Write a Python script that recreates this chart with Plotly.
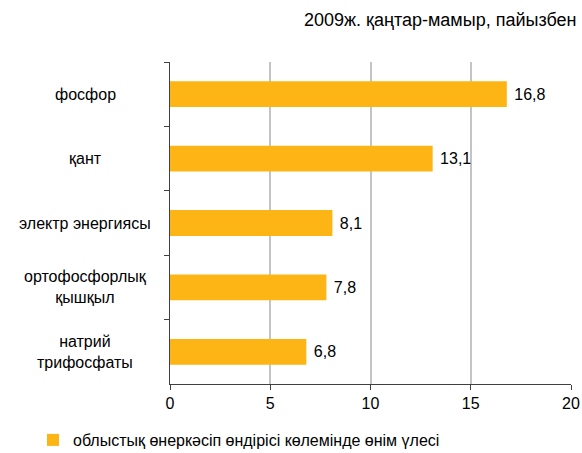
import plotly.graph_objects as go

categories = ["фосфор", "қант", "электр энергиясы", "ортофосфорлық<br>қышқыл", "натрий<br>трифосфаты"]
values = [16.8, 13.1, 8.1, 7.8, 6.8]
series_name = "облыстық өнеркәсіп өндірісі көлемінде өнім үлесі"
title_text = "2009ж. қаңтар-мамыр, пайызбен"
x_ticks = [0, 5, 10, 15, 20]

FONT = "Liberation Sans, Arial, sans-serif"
BAR = "#FDB515"
L, R, T, B = 170, 11, 62, 69
PW, PH = 582 - L - R, 453 - T - B

fig = go.Figure()
fig.add_trace(go.Bar(
    y=categories, x=values, orientation="h",
    marker=dict(color=BAR, line=dict(width=0)),
    name=series_name,
    text=values, texttemplate=" %{x:.1f}", textposition="outside",
    textfont=dict(family=FONT, size=16, color="#000000"),
    cliponaxis=False, showlegend=True,
))

for c in categories:
    fig.add_annotation(
        x=(85 - L) / PW, xref="paper", y=c, yref="y",
        text=c, showarrow=False, xanchor="center", yanchor="middle",
        align="center", font=dict(family=FONT, size=16, color="#000000"),
    )

fig.add_annotation(
    x=(579 - L) / PW, xref="paper", y=(453 - B - 20) / PH, yref="paper",
    text=title_text, showarrow=False, xanchor="right", yanchor="middle",
    font=dict(family=FONT, size=18, color="#000000"),
)

fig.update_layout(
    width=582, height=453,
    margin=dict(l=L, r=R, t=T, b=B, autoexpand=False),
    paper_bgcolor="white", plot_bgcolor="white",
    separators=", ",
    bargap=0.6,
    font=dict(family=FONT, size=16, color="#000000"),
    legend=dict(
        orientation="h", x=(33 - L) / PW, y=(453 - B - 440) / PH,
        xanchor="left", yanchor="middle",
        font=dict(family=FONT, size=16, color="#000000"),
        itemwidth=30,
    ),
    xaxis=dict(
        range=[0, 20], tickvals=x_ticks, ticktext=[str(t) for t in x_ticks],
        showgrid=True, gridcolor="#C4C4C8", gridwidth=2,
        showline=True, linecolor="#404040", linewidth=1,
        ticks="outside", ticklen=5, tickcolor="#404040",
        zeroline=False, automargin=False,
        tickfont=dict(family=FONT, size=16, color="#000000"),
    ),
    yaxis=dict(
        categoryorder="array", categoryarray=categories,
        autorange="reversed",
        showticklabels=False, automargin=False,
        showline=True, linecolor="#404040", linewidth=1,
        ticks="outside", ticklen=5, tickcolor="#404040",
        tickson="boundaries", showgrid=False,
    ),
)

fig.write_html("out.html", config={"displayModeBar": False},
               post_script="document.body.style.margin='0';")
